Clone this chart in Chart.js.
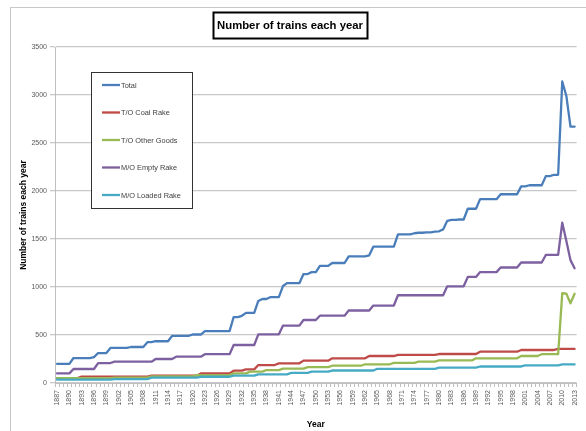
<!DOCTYPE html>
<html><head><meta charset="utf-8">
<script src="https://cdn.jsdelivr.net/npm/chart.js@4.4.1/dist/chart.umd.min.js"></script>
<style>
html,body{margin:0;padding:0;background:#fff;overflow:hidden;}
#wrap{position:relative;width:586px;height:431px;overflow:hidden;}
#frame{position:absolute;left:10px;top:7px;width:620px;height:520px;border:1px solid #c8c8c8;}
#c{position:absolute;left:0;top:0;}
</style></head><body>
<div id="wrap"><div id="frame"></div><canvas id="c" width="586" height="431"></canvas></div>
<script>
const years = [
'1887','1888','1889','1890','1891','1892','1893','1894','1895','1896','1897','1898','1899','1900',
'1901','1902','1903','1904','1905','1906','1907','1908','1909','1910','1911','1912','1913','1914',
'1915','1916','1917','1918','1919','1920','1921','1922','1923','1924','1925','1926','1927','1928',
'1929','1930','1931','1932','1933','1934','1935','1936','1937','1938','1939','1940','1941','1942',
'1943','1944','1945','1946','1947','1948','1949','1950','1951','1952','1953','1954','1955','1956',
'1957','1958','1959','1960','1961','1962','1963','1964','1965','1966','1967','1968','1969','1970',
'1971','1972','1973','1974','1975','1976','1977','1978','1979','1980','1981','1982','1983','1984',
'1985','1986','1987','1988','1989','1990','1991','1992','1993','1994','1995','1996','1997','1998',
'1999','2000','2001','2002','2003','2004','2005','2006','2007','2008','2009','2010','2011','2012','2013'];

const total = [
200,200,200,200,260,260,260,260,260,270,312,312,312,365,
365,365,365,365,375,375,375,375,425,425,435,435,435,435,
490,490,490,490,490,505,505,505,540,540,540,540,540,540,
540,687,687,700,730,730,730,855,875,875,895,895,895,1010,
1040,1040,1040,1040,1135,1135,1155,1155,1220,1220,1220,1250,1250,1250,
1250,1320,1320,1320,1320,1320,1330,1420,1420,1420,1420,1420,1420,1548,
1548,1548,1548,1560,1565,1565,1570,1570,1576,1580,1600,1690,1700,1700,
1703,1703,1815,1815,1815,1915,1915,1915,1915,1915,1966,1966,1966,1966,
1966,2048,2048,2060,2060,2060,2060,2155,2155,2169,2169,3141,2990,2670,2670];

const coalRake = [
50,50,50,50,50,50,66,66,66,66,66,66,66,66,
66,66,66,66,66,66,66,66,66,76,76,76,76,76,
76,76,76,76,76,76,76,100,100,100,100,100,100,100,
100,128,128,128,142,142,142,187,187,187,187,187,205,205,
205,205,205,205,233,233,233,233,233,233,233,257,257,257,
257,257,257,257,257,257,281,281,281,281,281,281,281,292,
292,292,292,292,292,292,292,292,292,302,302,302,302,302,
302,302,302,302,302,326,326,326,326,326,326,326,326,326,
326,344,344,344,344,344,344,344,344,344,355,355,355,355,355];

const otherGoods = [
50,50,50,50,50,50,50,50,50,50,50,50,50,50,
57,57,57,57,57,57,57,57,57,70,70,70,70,70,
70,70,70,70,70,70,83,83,83,83,83,83,83,83,
83,100,100,100,100,118,118,118,118,135,135,135,135,150,
150,150,150,150,150,165,165,165,165,165,165,180,180,180,
180,180,180,180,180,195,195,195,195,195,195,195,210,210,
210,210,210,210,222,222,222,222,222,235,235,235,235,235,
235,235,235,235,257,257,257,257,257,257,257,257,257,257,
257,281,281,281,281,281,300,300,300,300,300,935,930,830,930];

const emptyRake = [
100,100,100,100,146,146,146,146,146,146,208,208,208,208,
222,222,222,222,222,222,222,222,222,222,250,250,250,250,
250,274,274,274,274,274,274,274,300,300,300,300,300,300,
300,396,396,396,396,396,396,507,507,507,507,507,507,597,
597,597,597,597,656,656,656,656,701,701,701,701,701,701,
701,755,755,755,755,755,755,807,807,807,807,807,807,914,
914,914,914,914,914,914,914,914,914,914,914,1007,1007,1007,
1007,1007,1105,1105,1105,1155,1155,1155,1155,1155,1203,1203,1203,1203,
1203,1255,1255,1255,1255,1255,1255,1334,1334,1334,1334,1670,1480,1280,1195];

const loadedRake = [
35,35,35,35,35,35,35,35,35,35,35,35,35,35,
40,40,40,40,40,40,40,40,40,55,55,55,55,55,
55,55,55,55,55,55,55,65,65,65,65,65,65,65,
65,76,76,76,76,76,76,90,90,90,90,90,90,90,
90,105,105,105,105,105,118,118,118,118,118,130,130,130,
130,130,130,130,130,130,130,130,148,148,148,148,148,148,
148,148,148,148,148,148,148,148,148,160,160,160,160,160,
160,160,160,160,160,172,172,172,172,172,172,172,172,172,
172,172,183,183,183,183,183,183,183,183,183,194,194,194,194];

const seriesNames = ['Total','T/O Coal Rake','T/O Other Goods','M/O Empty Rake','M/O Loaded Rake'];
const seriesColors = ['#4A7EBB','#BE4B48','#98B954','#7D60A0','#46AAC5'];
const yTicks = [0,500,1000,1500,2000,2500,3000,3500];
const chartTitle = 'Number of trains each year';
const yTitle = 'Number of trains each year';
const xTitle = 'Year';

const FAM = '"Liberation Sans Narrow","Liberation Sans",Arial,sans-serif';
const seriesData = [total, coalRake, otherGoods, emptyRake, loadedRake];

const datasets = seriesNames.map((n,i)=>({
  label:n, data:seriesData[i], borderColor:seriesColors[i], backgroundColor:seriesColors[i],
  borderWidth:2.3, pointRadius:0, tension:0, fill:false, order:4-i,
  borderJoinStyle:'round', borderCapStyle:'round'
}));

const deco = {
  id:'deco',
  afterDraw(chart){
    const ctx = chart.ctx;
    ctx.save();
    // title
    let fs = 15;
    ctx.font = 'bold '+fs+'px '+FAM;
    const w0 = ctx.measureText(chartTitle).width;
    fs = fs*146/w0;
    ctx.font = 'bold '+fs.toFixed(2)+'px '+FAM;
    ctx.fillStyle = '#000';
    ctx.textAlign='center'; ctx.textBaseline='middle';
    ctx.fillText(chartTitle, 290, 25.5);
    ctx.lineWidth = 2; ctx.strokeStyle = '#000';
    ctx.strokeRect(213.5, 12.5, 154, 26);
    // legend
    const lx=91.5, ly=72.5, lw=101, lh=136;
    ctx.fillStyle='#fff'; ctx.fillRect(lx,ly,lw,lh);
    ctx.lineWidth=1; ctx.strokeStyle='#333'; ctx.strokeRect(lx,ly,lw,lh);
    let lf = 8.5;
    ctx.font = lf+'px '+FAM;
    lf = lf*60/ctx.measureText('M/O Loaded Rake').width;
    ctx.font = lf.toFixed(2)+'px '+FAM;
    ctx.textAlign='left'; ctx.textBaseline='middle';
    chart.data.datasets.forEach((ds,i)=>{
      const y = 85 + i*27.5;
      ctx.strokeStyle = ds.borderColor; ctx.lineWidth=2.3;
      ctx.beginPath(); ctx.moveTo(102,y); ctx.lineTo(120,y); ctx.stroke();
      ctx.fillStyle='#404040';
      ctx.fillText(ds.label, 121, y+0.5);
    });
    ctx.restore();
  }
};

new Chart(document.getElementById('c'), {
  type:'line',
  data:{labels:years, datasets},
  options:{
    responsive:false, animation:false,
    layout:{padding:{left:0,top:47,right:6,bottom:0}},
    plugins:{legend:{display:false}, title:{display:false}, tooltip:{enabled:false}},
    scales:{
      x:{
        offset:true,
        ticks:{autoSkip:false, maxRotation:90, minRotation:90, color:'#595959',
          font:{size:7, family:FAM}, padding:3,
          callback:(v,i)=> i%3===0 ? years[i] : ''},
        grid:{display:true, drawOnChartArea:false, tickLength:4, color:'#bfbfbf', offset:true},
        border:{display:true, color:'#bfbfbf'},
        title:{display:true, text:xTitle, color:'#000', font:{size:8.5, weight:'bold', family:FAM}, padding:{top:0,bottom:1}},
        afterFit(s){ s.height = 48; }
      },
      y:{
        min:0, max:3500,
        afterBuildTicks(s){ s.ticks = yTicks.map(v=>({value:v})); },
        ticks:{color:'#595959', font:{size:7, family:FAM}, padding:3, callback:(v)=>String(v)},
        grid:{color:'#c8c8c8', lineWidth:1.3, tickLength:5},
        border:{display:true, color:'#bfbfbf'},
        title:{display:true, text:yTitle, color:'#000', font:{size:8.5, weight:'bold', family:FAM}, padding:{top:19,bottom:0}},
        afterFit(s){ s.width = 55; }
      }
    }
  },
  plugins:[deco]
});
</script>
</body></html>
